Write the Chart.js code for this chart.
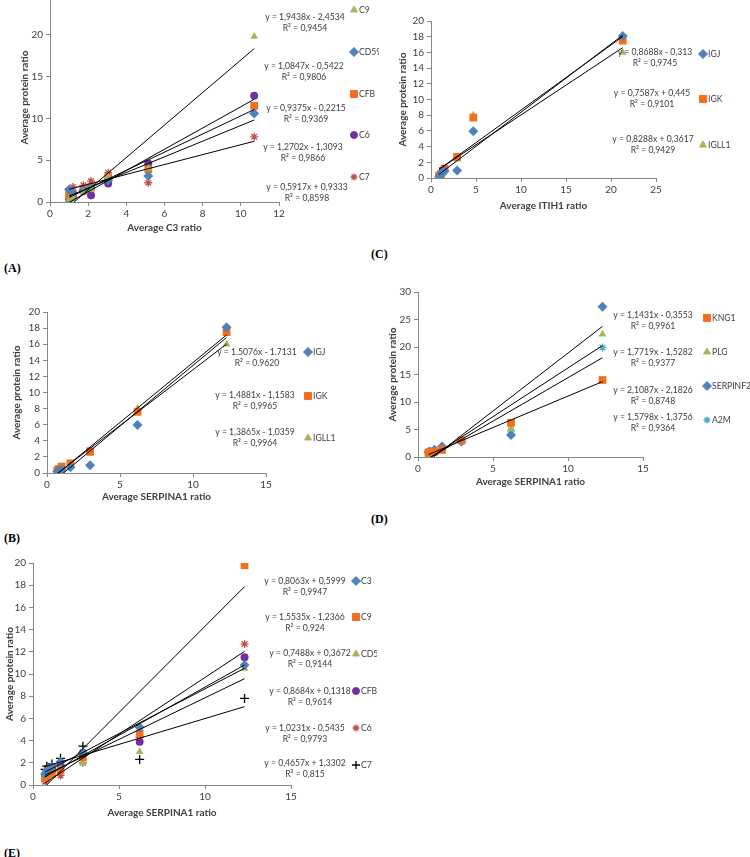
<!DOCTYPE html>
<html>
<head>
<meta charset="utf-8">
<script src="https://cdn.jsdelivr.net/npm/chart.js@4"></script>
<style>
  body { margin: 0; width: 750px; height: 857px; background: #fff; overflow: hidden; position: relative; font-family: Lato, "Liberation Sans", sans-serif; }
  .box { position: absolute; }
  .tag { position: absolute; font: bold 12px "Liberation Serif", serif; color: #000; }
</style>
</head>
<body>
<div class="box" id="boxA"><canvas id="chartA"></canvas></div>
<div class="box" id="boxB"><canvas id="chartB"></canvas></div>
<div class="box" id="boxC"><canvas id="chartC"></canvas></div>
<div class="box" id="boxD"><canvas id="chartD"></canvas></div>
<div class="box" id="boxE"><canvas id="chartE"></canvas></div>
<div class="tag" style="left:4px;top:261px">(A)</div>
<div class="tag" style="left:4px;top:531px">(B)</div>
<div class="tag" style="left:371px;top:247px">(C)</div>
<div class="tag" style="left:371px;top:512px">(D)</div>
<div class="tag" style="left:4px;top:846px">(E)</div>
<script>
// ---- Panel A: vs C3
const aX   = [1.0, 1.2, 1.75, 2.15, 3.05, 5.15, 10.7];
const aC9  = [0.3, 0.5, 1.2, 1.5, 3.0, 4.0, 19.8];
const aCD59 = [1.5, 1.1, 1.4, 1.7, 2.6, 3.1, 10.6];
const aCFB = [0.8, 1.0, 1.5, 1.8, 2.9, 3.9, 11.5];
const aC6  = [0.3, 0.6, 1.3, 0.8, 2.2, 4.6, 12.7];
const aC7  = [1.3, 1.8, 2.0, 2.5, 3.5, 2.3, 7.8];
const aSlope = [1.9438, 1.0847, 0.9375, 1.2702, 0.5917];
const aInter = [-2.4534, -0.5422, -0.2215, -1.3093, 0.9333];
const aEq = ["y = 1,9438x - 2,4534", "y = 1,0847x - 0,5422", "y = 0,9375x - 0,2215", "y = 1,2702x - 1,3093", "y = 0,5917x + 0,9333"];
const aR2 = ["R² = 0,9454", "R² = 0,9806", "R² = 0,9369", "R² = 0,9866", "R² = 0,8598"];

// ---- Panel B: vs SERPINA1
const bX     = [0.7, 0.8, 1.0, 1.6, 2.95, 6.2, 12.3];
const bIGJ   = [0.2, 0.3, 0.4, 0.7, 0.95, 5.95, 18.1];
const bIGK   = [0.3, 0.5, 0.8, 1.2, 2.7, 7.6, 17.5];
const bIGLL1 = [0.1, 0.2, 0.4, 1.0, 2.4, 8.0, 16.0];
const bSlope = [1.5076, 1.4881, 1.3865];
const bInter = [-1.7131, -1.1583, -1.0359];
const bEq = ["y = 1.5076x - 1.7131", "y = 1,4881x - 1,1583", "y = 1,3865x - 1,0359"];
const bR2 = ["R² = 0.9620", "R² = 0,9965", "R² = 0,9964"];

// ---- Panel C: vs ITIH1
const cX     = [0.9, 1.1, 1.3, 1.5, 2.9, 4.7, 21.3];
const cIGJ   = [0.2, 0.4, 0.8, 0.9, 0.95, 5.95, 18.1];
const cIGK   = [0.3, 0.5, 0.9, 1.2, 2.7, 7.7, 17.5];
const cIGLL1 = [0.1, 0.3, 0.6, 0.9, 2.4, 8.0, 16.0];
const cSlope = [0.8688, 0.7587, 0.8288];
const cInter = [-0.313, 0.445, 0.3617];
const cEq = ["y = 0,8688x - 0,313", "y = 0,7587x + 0,445", "y = 0,8288x + 0,3617"];
const cR2 = ["R² = 0,9745", "R² = 0,9101", "R² = 0,9429"];

// ---- Panel D: vs SERPINA1
const dX       = [0.7, 0.8, 1.1, 1.6, 2.9, 6.2, 12.3];
const dKNG1    = [0.8, 0.9, 1.0, 1.3, 3.0, 6.2, 14.0];
const dPLG     = [0.4, 0.6, 0.8, 1.4, 3.0, 5.1, 22.3];
const dSERPINF2 = [0.9, 1.0, 1.3, 1.9, 2.8, 4.0, 27.3];
const dA2M     = [0.6, 0.8, 1.0, 1.5, 2.9, 4.8, 19.9];
const dSlope = [1.1431, 1.7719, 2.1087, 1.5798];
const dInter = [-0.3553, -1.5282, -2.1826, -1.3756];
const dEq = ["y = 1,1431x - 0,3553", "y = 1,7719x - 1,5282", "y = 2,1087x - 2,1826", "y = 1,5798x - 1,3756"];
const dR2 = ["R² = 0,9961", "R² = 0,9377", "R² = 0,8748", "R² = 0,9364"];

// ---- Panel E: vs SERPINA1
const eX    = [0.7, 0.8, 1.1, 1.6, 2.9, 6.2, 12.3];
const eC3   = [1.0, 1.3, 1.7, 2.1, 2.9, 5.2, 10.8];
const eC9   = [0.6, 0.8, 1.0, 1.3, 2.5, 4.6, 19.8];
const eCD59 = [1.2, 1.3, 1.4, 1.6, 2.0, 3.0, 10.5];
const eCFB  = [0.8, 1.1, 1.5, 1.8, 2.9, 3.9, 11.5];
const eC6   = [0.3, 0.5, 1.2, 0.85, 2.0, 4.3, 12.7];
const eC7   = [1.4, 1.7, 1.9, 2.4, 3.5, 2.3, 7.8];
const eSlope = [0.8063, 1.5535, 0.7488, 0.8684, 1.0231, 0.4657];
const eInter = [0.5999, -1.2366, 0.3672, 0.1318, -0.5435, 1.3302];
const eEq = ["y = 0,8063x + 0,5999", "y = 1,5535x - 1,2366", "y = 0,7488x + 0,3672", "y = 0,8684x + 0,1318", "y = 1,0231x - 0,5435", "y = 0,4657x + 1,3302"];
const eR2 = ["R² = 0,9947", "R² = 0,924", "R² = 0,9144", "R² = 0,9614", "R² = 0,9793", "R² = 0,815"];

const BLUE = "#4F81BD", ORANGE = "#F36F1D", GREEN = "#9BBB59", PURPLE = "#7030A0",
      RED = "#C0504D", CYAN = "#4BACC6", BLACK = "#000";
const MARK = {
  diamond:  { pointStyle: "rectRot",  radius: 5 },
  square:   { pointStyle: "rect",     radius: 5.5 },
  triangle: { pointStyle: "triangle", radius: 4.5 },
  circle:   { pointStyle: "circle",   radius: 4 },
  star:     { pointStyle: "star",     radius: 4 },
  cross:    { pointStyle: "cross",    radius: 4.5 }
};

Chart.defaults.font.family = 'Lato, "Liberation Sans", sans-serif';
Chart.defaults.font.size = 10;
Chart.defaults.color = "#404040";
Chart.defaults.animation = false;

function pts(xs, ys) { return xs.map((x, i) => ({ x, y: ys[i] })); }

function trend(xs, m, b) {
  const lo = Math.min(...xs), hi = Math.max(...xs);
  return [{ x: lo, y: m * lo + b }, { x: hi, y: m * hi + b }];
}

// narrow text, closer to the Calibri look of the original
function narrowText(ctx, txt, x, y, align) {
  ctx.save();
  ctx.translate(x, y);
  ctx.scale(0.86, 1);
  ctx.textAlign = align;
  ctx.fillText(txt, 0, 0);
  ctx.restore();
}

// legend + equation labels, page coords
const legendPlugin = {
  id: "sideText",
  afterDraw(chart) {
    const p = chart.options.plugins.sideText;
    if (!p) return;
    const ctx = chart.ctx;
    ctx.save();
    ctx.font = '10px Lato, "Liberation Sans", sans-serif';
    ctx.textBaseline = "middle";
    p.items.forEach(it => {
      const mk = MARK[it.mark];
      ctx.fillStyle = it.color; ctx.strokeStyle = it.color;
      ctx.lineWidth = (it.mark === "star" || it.mark === "cross") ? 1.3 : 0;
      Chart.helpers.drawPoint(ctx, { pointStyle: mk.pointStyle, radius: mk.radius - 0.5, rotation: 0, borderWidth: ctx.lineWidth }, p.mx - p.left, it.y - p.top);
      ctx.fillStyle = "#404040";
      narrowText(ctx, it.label, p.mx + 5 - p.left, it.y - p.top, "left");
    });
    p.eqs.forEach(e => {
      narrowText(ctx, e.eq, e.x - p.left, e.y - p.top, "center");
      narrowText(ctx, e.r2, e.x - p.left, e.y + 11 - p.top, "center");
    });
    ctx.restore();
  }
};

function makePanel(id, g, series, lines, sc, side) {
  const box = document.getElementById("box" + id);
  box.style.left = g.left + "px"; box.style.top = g.top + "px";
  box.style.width = (g.right - g.left) + "px"; box.style.height = (g.bottom - g.top) + "px";
  const padLeft = g.yTitleX - 10 - g.left;
  const datasets = [];
  lines.forEach(l => datasets.push({
    type: "line", data: l, borderColor: BLACK, borderWidth: 1, pointRadius: 0, order: 0, fill: false
  }));
  series.forEach(s => datasets.push({
    type: "scatter", data: s.data, backgroundColor: s.color, borderColor: s.color,
    pointStyle: MARK[s.mark].pointStyle, pointRadius: MARK[s.mark].radius,
    borderWidth: (s.mark === "star" || s.mark === "cross") ? 1.3 : 0, order: 1
  }));
  side.left = g.left; side.top = g.top;
  new Chart(document.getElementById("chart" + id), {
    type: "scatter",
    data: { datasets },
    options: {
      responsive: true, maintainAspectRatio: false,
      layout: { padding: { left: padLeft, top: g.plotTop - g.top, right: g.right - g.plotRight, bottom: 0 } },
      plugins: { legend: { display: false }, tooltip: { enabled: false }, sideText: side },
      scales: {
        x: {
          min: 0, max: sc.xMax,
          ticks: { stepSize: sc.xStep, color: "#404040", padding: 2 },
          grid: { display: true, drawOnChartArea: false, color: "#868686", tickLength: 4 },
          border: { color: "#868686" },
          title: { display: true, text: sc.xTitle, font: { weight: "bold", size: 10 }, color: "#404040" },
          afterFit: s => { s.height = g.bottom - g.plotBottom; }
        },
        y: {
          min: 0, max: sc.yMax,
          ticks: { stepSize: sc.yStep, color: "#404040", padding: 3 },
          grid: { display: true, drawOnChartArea: false, color: "#868686", tickLength: 4 },
          border: { color: "#868686" },
          title: { display: true, text: "Average protein ratio", font: { weight: "bold", size: 10 }, color: "#404040" },
          afterFit: s => { s.width = g.plotLeft - g.left - padLeft; }
        }
      }
    },
    plugins: [legendPlugin]
  });
}

// A
makePanel("A",
  { left: 0, top: -20, right: 379, bottom: 238, plotLeft: 50, plotTop: -7, plotRight: 279, plotBottom: 202, yTitleX: 25 },
  [
    { data: pts(aX, aC9), color: GREEN, mark: "triangle" },
    { data: pts(aX, aCD59), color: BLUE, mark: "diamond" },
    { data: pts(aX, aCFB), color: ORANGE, mark: "square" },
    { data: pts(aX, aC6), color: PURPLE, mark: "circle" },
    { data: pts(aX, aC7), color: RED, mark: "star" }
  ],
  aSlope.map((m, i) => trend(aX, m, aInter[i])),
  { xMax: 12, xStep: 2, yMax: 25, yStep: 5, xTitle: "Average C3 ratio" },
  {
    mx: 354,
    items: [
      { label: "C9", mark: "triangle", color: GREEN, y: 10 },
      { label: "CD59", mark: "diamond", color: BLUE, y: 52 },
      { label: "CFB", mark: "square", color: ORANGE, y: 94 },
      { label: "C6", mark: "circle", color: PURPLE, y: 135 },
      { label: "C7", mark: "star", color: RED, y: 177 }
    ],
    eqs: aEq.map((eq, i) => ({ eq, r2: aR2[i], x: [305, 304, 306, 303, 307][i], y: [17, 66, 108, 147, 187][i] }))
  });

// B
makePanel("B",
  { left: 0, top: 295, right: 372, bottom: 507, plotLeft: 47, plotTop: 312, plotRight: 266, plotBottom: 473, yTitleX: 17 },
  [
    { data: pts(bX, bIGJ), color: BLUE, mark: "diamond" },
    { data: pts(bX, bIGK), color: ORANGE, mark: "square" },
    { data: pts(bX, bIGLL1), color: GREEN, mark: "triangle" }
  ],
  bSlope.map((m, i) => trend(bX, m, bInter[i])),
  { xMax: 15, xStep: 5, yMax: 20, yStep: 2, xTitle: "Average SERPINA1 ratio" },
  {
    mx: 308,
    items: [
      { label: "IGJ", mark: "diamond", color: BLUE, y: 352 },
      { label: "IGK", mark: "square", color: ORANGE, y: 396 },
      { label: "IGLL1", mark: "triangle", color: GREEN, y: 438 }
    ],
    eqs: bEq.map((eq, i) => ({ eq, r2: bR2[i], x: [257, 255, 255][i], y: [352, 395, 432][i] }))
  });

// C
makePanel("C",
  { left: 380, top: 0, right: 750, bottom: 216, plotLeft: 431, plotTop: 21, plotRight: 656, plotBottom: 178, yTitleX: 403 },
  [
    { data: pts(cX, cIGJ), color: BLUE, mark: "diamond" },
    { data: pts(cX, cIGK), color: ORANGE, mark: "square" },
    { data: pts(cX, cIGLL1), color: GREEN, mark: "triangle" }
  ],
  cSlope.map((m, i) => trend(cX, m, cInter[i])),
  { xMax: 25, xStep: 5, yMax: 20, yStep: 2, xTitle: "Average ITIH1 ratio" },
  {
    mx: 703,
    items: [
      { label: "IGJ", mark: "diamond", color: BLUE, y: 54 },
      { label: "IGK", mark: "square", color: ORANGE, y: 99 },
      { label: "IGLL1", mark: "triangle", color: GREEN, y: 145 }
    ],
    eqs: cEq.map((eq, i) => ({ eq, r2: cR2[i], x: [655, 652, 653][i], y: [52, 93, 139][i] }))
  });

// D
makePanel("D",
  { left: 372, top: 280, right: 750, bottom: 492, plotLeft: 418, plotTop: 292, plotRight: 643, plotBottom: 457, yTitleX: 393 },
  [
    { data: pts(dX, dKNG1), color: ORANGE, mark: "square" },
    { data: pts(dX, dPLG), color: GREEN, mark: "triangle" },
    { data: pts(dX, dSERPINF2), color: BLUE, mark: "diamond" },
    { data: pts(dX, dA2M), color: CYAN, mark: "star" }
  ],
  dSlope.map((m, i) => trend(dX, m, dInter[i])),
  { xMax: 15, xStep: 5, yMax: 30, yStep: 5, xTitle: "Average SERPINA1 ratio" },
  {
    mx: 707,
    items: [
      { label: "KNG1", mark: "square", color: ORANGE, y: 318 },
      { label: "PLG", mark: "triangle", color: GREEN, y: 352 },
      { label: "SERPINF2", mark: "diamond", color: BLUE, y: 386 },
      { label: "A2M", mark: "star", color: CYAN, y: 420 }
    ],
    eqs: dEq.map((eq, i) => ({ eq, r2: dR2[i], x: [653, 653, 653, 653][i], y: [315, 352, 390, 417][i] }))
  });

// E
makePanel("E",
  { left: 0, top: 550, right: 377, bottom: 823, plotLeft: 33, plotTop: 563, plotRight: 291, plotBottom: 785, yTitleX: 10 },
  [
    { data: pts(eX, eC3), color: BLUE, mark: "diamond" },
    { data: pts(eX, eC9), color: ORANGE, mark: "square" },
    { data: pts(eX, eCD59), color: GREEN, mark: "triangle" },
    { data: pts(eX, eCFB), color: PURPLE, mark: "circle" },
    { data: pts(eX, eC6), color: RED, mark: "star" },
    { data: pts(eX, eC7), color: BLACK, mark: "cross" }
  ],
  eSlope.map((m, i) => trend(eX, m, eInter[i])),
  { xMax: 15, xStep: 5, yMax: 20, yStep: 2, xTitle: "Average SERPINA1 ratio" },
  {
    mx: 356,
    items: [
      { label: "C3", mark: "diamond", color: BLUE, y: 581 },
      { label: "C9", mark: "square", color: ORANGE, y: 617 },
      { label: "CD59", mark: "triangle", color: GREEN, y: 654 },
      { label: "CFB", mark: "circle", color: PURPLE, y: 691 },
      { label: "C6", mark: "star", color: RED, y: 728 },
      { label: "C7", mark: "cross", color: BLACK, y: 765 }
    ],
    eqs: eEq.map((eq, i) => ({ eq, r2: eR2[i], x: [305, 305, 310, 310, 305, 305][i], y: [581, 617, 653, 691, 728, 763][i] }))
  });
</script>
</body>
</html>
